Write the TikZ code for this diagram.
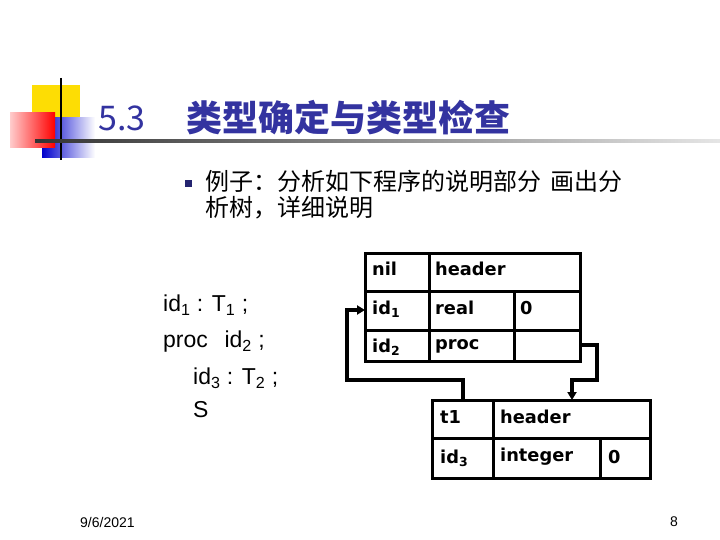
\documentclass[tikz,border=0pt]{standalone}
\usepackage{fontspec}
\setmainfont{Liberation Sans}
\newfontfamily\cjk{Noto Sans CJK SC}
\newfontfamily\tb{DejaVu Sans}
\usetikzlibrary{arrows.meta}
\definecolor{ttl}{HTML}{3333A0}
\begin{document}
\begin{tikzpicture}[x=1pt,y=-1pt,
  cell/.style={draw,line width=3pt},
  ct/.style={anchor=west,font=\tb\bfseries\fontsize{17.8}{17.8}\selectfont,inner sep=0pt},
  code/.style={anchor=west,font=\fontsize{23}{23}\selectfont,inner sep=0pt},
  lnk/.style={line width=3.2pt,-{Triangle[length=8pt,width=9pt]}}]
\useasboundingbox (0,0) rectangle (720,540);
% logo
\fill[yellow!80!orange] (32,85) rectangle (80,118);
\shade[left color=blue!80!black,right color=white] (42,118) rectangle (95,158);
\shade[left color=red!20,right color=red] (10,113) rectangle (55,148);
\draw[line width=1.6pt] (61,78) -- (61,160);
\shade[left color=black!80,right color=black!10] (35,139.5) rectangle (720,142.5);
\node[anchor=west,text=ttl,inner sep=0pt,font=\cjk\fontsize{34}{34}\selectfont] (t53) at (98,118) {5.3};
\node[anchor=west,text=ttl,inner sep=0pt,font=\cjk\bfseries\fontsize{36}{36}\selectfont] (ttl) at (186,118) {类型确定与类型检查};
% bullet
\fill[ttl!70!black] (185,180) rectangle (192,187);
\node[anchor=west,inner sep=0pt,font=\cjk\fontsize{24}{24}\selectfont] (l1) at (205,181) {例子：分析如下程序的说明部分\hspace{0.4em}画出分};
\node[anchor=west,inner sep=0pt,font=\cjk\fontsize{24}{24}\selectfont] (l2) at (205,208) {析树，详细说明};
% code
\node[code] (c1) at (163,305) {id\textsubscript{1} : T\textsubscript{1} ;};
\node[code] (c2) at (163,342) {proc\;\, id\textsubscript{2} ;};
\node[code] (c3) at (193,378) {id\textsubscript{3} : T\textsubscript{2} ;};
\node[code] (c4) at (193,410) {S};
% table 1
\draw[cell] (365,253) rectangle (580,361);
\draw[cell] (365,291) -- (580,291) (365,330) -- (580,330);
\draw[cell] (429,253) -- (429,361) (514,291) -- (514,361);
\node[ct] (nil) at (372,269) {nil};
\node[ct] (h1) at (435,269) {header};
\node[ct] (i1) at (372,309) {id\textsubscript{1}};
\node[ct] (real) at (435,308) {real};
\node[ct] (z1) at (520,308) {0};
\node[ct] (i2) at (372,347) {id\textsubscript{2}};
\node[ct] (proc) at (435,346) {proc};
% table 2
\draw[cell] (432,400) rectangle (650,478);
\draw[cell] (432,438) -- (650,438);
\draw[cell] (493,400) -- (493,478) (600,438) -- (600,478);
\node[ct] (t1) at (440,417) {t1};
\node[ct] (h2) at (500,417) {header};
\node[ct] (i3) at (440,458) {id\textsubscript{3}};
\node[ct] (int) at (500,457) {integer};
\node[ct] (z2) at (608,457) {0};
% links
\coordinate (a0) at (463,400);
\coordinate (a1) at (365,310);
\draw[lnk] (a0) -- (463,380) -- (347,380) -- (347,310) -- (a1);
\coordinate (b0) at (580,345);
\coordinate (b1) at (572,400);
\draw[lnk] (b0) -- (597,345) -- (597,380) -- (572,380) -- (b1);
% footer
\node[anchor=west,inner sep=0pt,font=\fontsize{14}{14}\selectfont] (date) at (80,522) {9/6/2021};
\node[anchor=east,inner sep=0pt,font=\fontsize{14}{14}\selectfont] (pg) at (678,522) {8};
\end{tikzpicture}
\end{document}
